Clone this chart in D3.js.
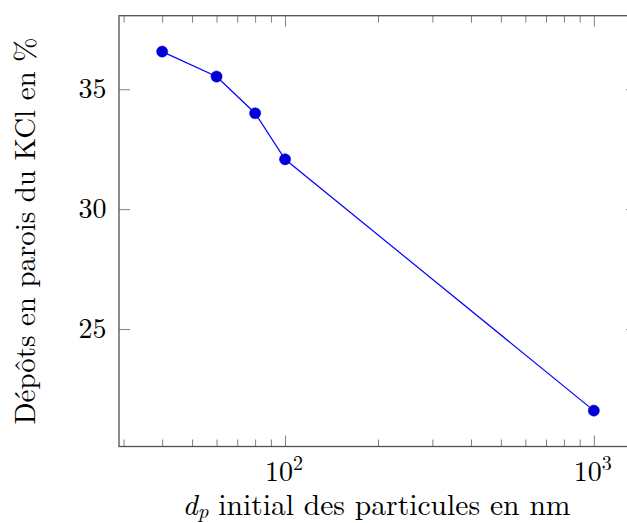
<!DOCTYPE html>
<html><head><meta charset="utf-8">
<script src="https://cdn.jsdelivr.net/npm/d3@7"></script>
<style>html,body{margin:0;padding:0;background:#fff;overflow:hidden}</style>
</head><body>
<svg id="c" width="627" height="523"></svg>
<script>
const diameters = [40, 60, 80, 100, 1000];
const deposits = [36.57, 35.53, 34.0, 32.08, 21.6];
const yTicks = [25, 30, 35];
const xMajorTicks = [100, 1000];
const xTickExponents = ["2", "3"];
const xLabel = ["d", "p", " initial des particules en nm"];
const yLabel = "Dépôts en parois du KCl en %";

const svg = d3.select("#c");
const L = 119, R = 637, T = 15.7, B = 446.5;
const FONT = '"Latin Modern Roman", "Liberation Serif", "DejaVu Serif"';

const lx0 = Math.log10(d3.min(diameters)), lx1 = Math.log10(d3.max(diameters));
const ex = 0.1 * (lx1 - lx0);
const x = d3.scaleLog().domain([10 ** (lx0 - ex), 10 ** (lx1 + ex)]).range([L, R]);
const y0 = d3.min(deposits), y1 = d3.max(deposits), ey = 0.1 * (y1 - y0);
const y = d3.scaleLinear().domain([y0 - ey, y1 + ey]).range([B, T]);

const [d0, d1] = x.domain();
const minor = [];
for (let e = Math.floor(Math.log10(d0)); e <= Math.ceil(Math.log10(d1)); e++) {
  for (let k = 2; k <= 9; k++) { const v = k * 10 ** e; if (v >= d0 && v <= d1) minor.push(v); }
}

function styleAxis(g) {
  g.select(".domain").remove();
  g.selectAll(".tick line").attr("stroke", "#808080").attr("stroke-width", 1);
  g.selectAll(".tick text").remove();
}
svg.append("g").attr("transform", `translate(0,${B})`).call(d3.axisBottom(x).tickValues(minor).tickSize(-7).tickFormat("")).call(styleAxis);
svg.append("g").attr("transform", `translate(0,${B})`).call(d3.axisBottom(x).tickValues(xMajorTicks).tickSize(-11).tickFormat("")).call(styleAxis);
svg.append("g").attr("transform", `translate(0,${T})`).call(d3.axisTop(x).tickValues(minor).tickSize(-7).tickFormat("")).call(styleAxis);
svg.append("g").attr("transform", `translate(0,${T})`).call(d3.axisTop(x).tickValues(xMajorTicks).tickSize(-11).tickFormat("")).call(styleAxis);
svg.append("g").attr("transform", `translate(${L},0)`).call(d3.axisLeft(y).tickValues(yTicks).tickSize(-11).tickFormat("")).call(styleAxis);
svg.append("g").attr("transform", `translate(${R},0)`).call(d3.axisRight(y).tickValues(yTicks).tickSize(-11).tickFormat("")).call(styleAxis);

svg.append("rect").attr("x", L).attr("y", T).attr("width", R - L).attr("height", B - T)
  .attr("fill", "none").attr("stroke", "#505050").attr("stroke-width", 1.3);

svg.append("g").selectAll("text").data(yTicks).join("text")
  .style("font-family", FONT)
  .attr("x", L - 12.5).attr("y", d => y(d)).attr("dy", "0.33em")
  .attr("text-anchor", "end").attr("font-size", 28).attr("fill", "#000")
  .text(d => d);

const xl = svg.append("g").selectAll("text").data(xMajorTicks).join("text")
  .style("font-family", FONT)
  .attr("x", d => x(d) - 1).attr("y", 480.5).attr("text-anchor", "middle")
  .attr("font-size", 28).attr("fill", "#000");
xl.append("tspan").text("10");
xl.append("tspan").attr("dy", -11).attr("font-size", 20).text((d, i) => xTickExponents[i]);

svg.append("path").datum(diameters.map((d, i) => [d, deposits[i]]))
  .attr("fill", "none").attr("stroke", "#0000ff").attr("stroke-width", 1.2)
  .attr("d", d3.line().x(d => x(d[0])).y(d => y(d[1])));
svg.append("g").selectAll("circle").data(diameters).join("circle")
  .attr("cx", d => x(d)).attr("cy", (d, i) => y(deposits[i])).attr("r", 5.6)
  .attr("fill", "#0000d6").attr("stroke", "#0000d6").attr("stroke-width", 0.5);

const xt = svg.append("text").style("font-family", FONT)
  .attr("x", 376.5).attr("y", 514.5).attr("text-anchor", "middle")
  .attr("font-size", 29.6).attr("fill", "#000");
xt.append("tspan").attr("font-style", "italic").text(xLabel[0]);
xt.append("tspan").attr("font-style", "italic").attr("font-size", 21).attr("dy", 3.5).text(xLabel[1]);
xt.append("tspan").attr("dy", -3.5).text(xLabel[2]);

svg.append("text").style("font-family", FONT)
  .attr("transform", `translate(35,${(T + B) / 2}) rotate(-90)`)
  .attr("text-anchor", "middle").attr("font-size", 28.9).attr("fill", "#000")
  .text(yLabel);
</script>
</body></html>
